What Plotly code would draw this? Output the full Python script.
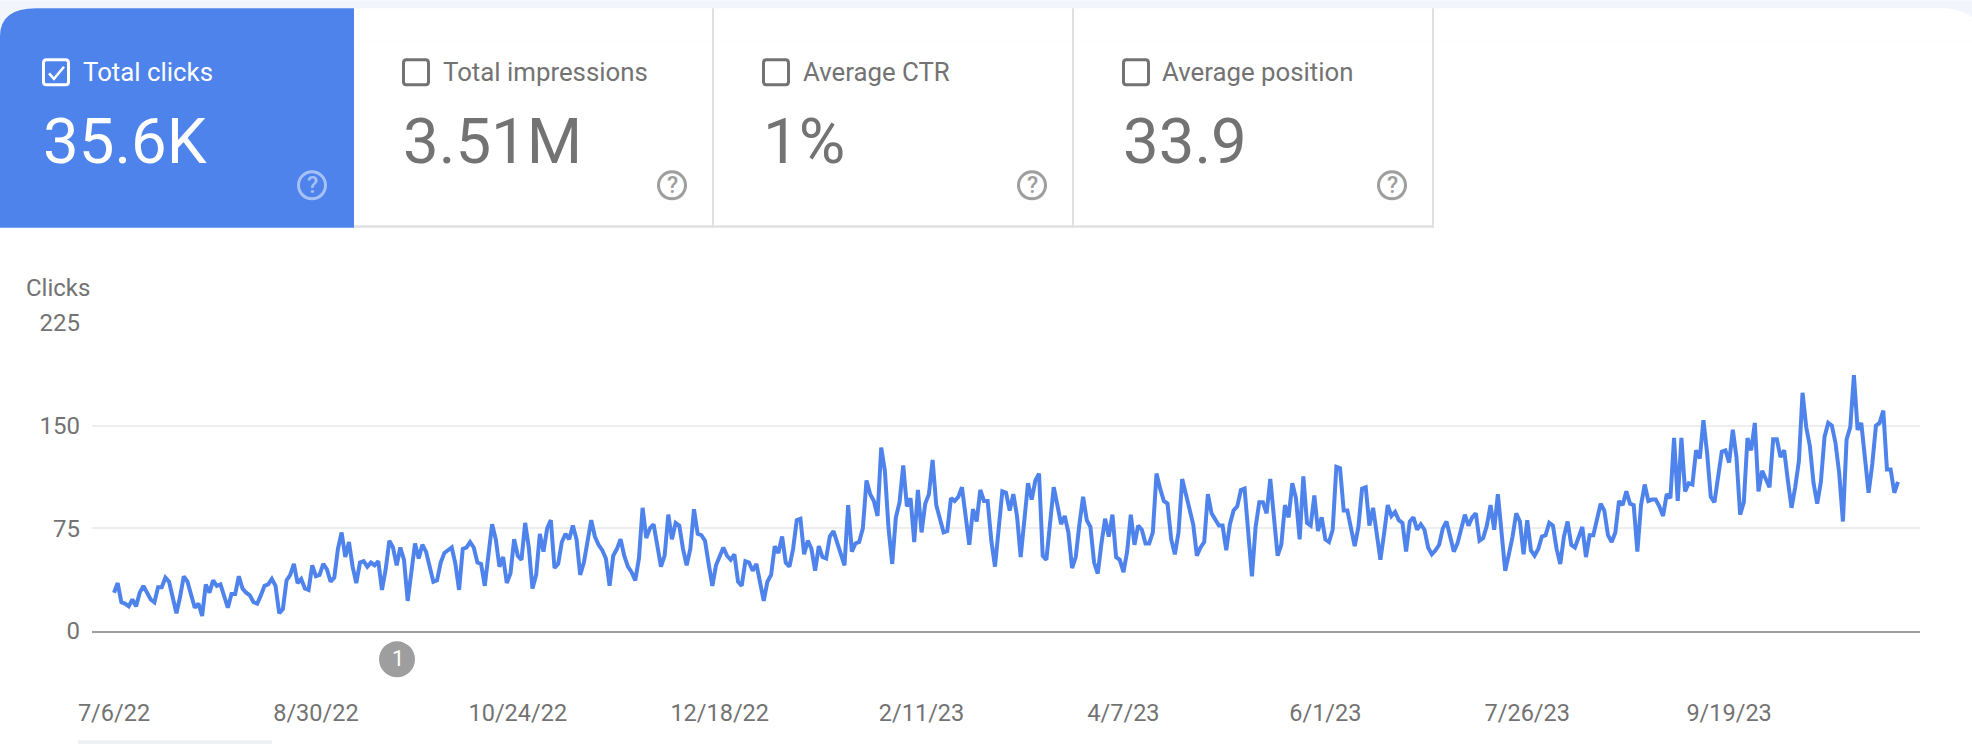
import datetime as dt
import plotly.graph_objects as go

# ---------- data ----------
START_DATE = dt.date(2022, 7, 6)
clicks_2022_a = [
    28,35,21,20,18,23,18,28,33,28,23,21,32,32,39,36,25,13,25,40,36,26,17,20,11,34,28,37,33,34,
    25,17,27,27,40,31,28,26,21,20,26,33,34,38,33,13,16,37,41,49,35,38,31,30,48,40,41,49,45,36,
    39,60,72,54,65,47,35,50,51,47,50,48,51,30,45,66,61,48,61,52,22,44,64,53,63,58,46,36,37,50,
    57,59,61,49,30,60,61,65,61,50,49,33,55,78,67,
]
clicks_2022_b = [
    47,54,35,42,67,55,52,79,61,31,41,71,58,75,81,46,49,65,71,67,77,67,41,50,65,81,69,63,59,53,
    33,55,60,67,55,47,43,37,53,90,68,75,78,63,47,55,85,67,79,77,60,48,60,89,71,70,66,49,33,48,
    54,61,55,52,56,36,33,51,50,44,49,37,22,36,41,62,57,69,50,47,60,81,82,56,66,60,44,62,54,53,
    69,73,65,55,48,92,58,64,65,75,110,100,95,84,134,117,75,49,83,
]
clicks_2023_a = [
    94,121,91,97,65,103,72,93,100,125,92,81,72,73,97,95,98,105,83,63,89,80,103,95,95,66,47,76,
    102,101,88,100,84,54,81,108,96,110,115,55,52,81,105,92,78,84,72,46,54,78,98,81,76,50,42,64,
    82,69,85,54,52,43,58,85,63,77,74,64,64,72,115,104,95,93,67,56,72,111,99,88,78,55,61,65,100,
    86,82,77,77,59,78,88,91,103,104,71,40,76,94,94,86,111,86,55,63,92,83,108,97,67,
]
clicks_2023_b = [
    113,79,77,99,73,83,67,65,74,120,119,88,88,76,62,76,104,105,77,90,70,52,71,92,84,87,81,79,58,
    80,83,74,78,74,61,56,59,63,75,80,69,58,64,76,85,77,83,86,66,68,77,92,74,100,71,44,56,69,86,
    80,56,81,59,55,60,69,70,79,77,60,49,69,80,63,61,69,76,54,70,70,82,93,88,70,65,72,95,92,102,
    93,92,58,92,107,95,96,96,91,84,100,97,141,95,141,102,108,107,132,126,
]
clicks_2023_c = [
    154,130,98,94,113,131,132,123,147,127,85,94,141,132,152,102,117,111,105,140,140,127,132,110,
    90,105,124,174,149,135,108,93,109,142,152,150,137,115,80,140,149,187,147,152,127,101,122,150,
    152,161,118,118,101,109,
]
clicks = clicks_2022_a + clicks_2022_b + clicks_2023_a + clicks_2023_b + clicks_2023_c
dates = [START_DATE + dt.timedelta(days=i) for i in range(len(clicks))]

y_ticks = [0, 75, 150, 225]
x_tick_dates = [dt.date(2022,7,6), dt.date(2022,8,30), dt.date(2022,10,24), dt.date(2022,12,18),
                dt.date(2023,2,11), dt.date(2023,4,7), dt.date(2023,6,1), dt.date(2023,7,26),
                dt.date(2023,9,19)]
x_tick_labels = ["7/6/22", "8/30/22", "10/24/22", "12/18/22", "2/11/23", "4/7/23", "6/1/23",
                 "7/26/23", "9/19/23"]

card_labels = ["Total clicks", "Total impressions", "Average CTR", "Average position"]
card_values = ["35.6K", "3.51M", "1%", "33.9"]
axis_title = "Clicks"
marker_label = "1"

# ---------- layout constants (pixels in the 1972x744 page) ----------
W, H = 1972, 744
PL, PR, PT, PB = 92, 1920, 322.7, 630.7
BLUE, GREY, LINE_BLUE = "#4f83ec", "#737373", "#4f83ec"
FONT = "Roboto"
PX_PER_DAY = 3.667
X0_PX = 115.7

def fx(px): return (px - PL) / (PR - PL)
def fy(py): return (PB - py) / (PB - PT)
def P(px, py): return f"{fx(px):.6f},{fy(py):.6f}"

def rrect(x0, y0, x1, y1, r):
    return (f"M{P(x0+r,y0)} L{P(x1-r,y0)} Q{P(x1,y0)} {P(x1,y0+r)} L{P(x1,y1-r)} "
            f"Q{P(x1,y1)} {P(x1-r,y1)} L{P(x0+r,y1)} Q{P(x0,y1)} {P(x0,y1-r)} "
            f"L{P(x0,y0+r)} Q{P(x0,y0)} {P(x0+r,y0)} Z")

def path(d, fill=None, line=None, w=0):
    return dict(type="path", xref="paper", yref="paper", path=d, layer="below",
                fillcolor=fill if fill else "rgba(0,0,0,0)",
                line=dict(color=line if line else "rgba(0,0,0,0)", width=w))

def rect(x0, y0, x1, y1, fill):
    return dict(type="rect", xref="paper", yref="paper", x0=fx(x0), x1=fx(x1), y0=fy(y1), y1=fy(y0),
                fillcolor=fill, line=dict(width=0), layer="below")

def circle(cx, cy, r, fill=None, line=None, w=0):
    return dict(type="circle", xref="paper", yref="paper", x0=fx(cx-r), x1=fx(cx+r), y0=fy(cy+r), y1=fy(cy-r),
                fillcolor=fill if fill else "rgba(0,0,0,0)",
                line=dict(color=line if line else "rgba(0,0,0,0)", width=w), layer="above")

def text(s, px, py, size, color, anchor="left", weight=400):
    return dict(text=s, xref="paper", yref="paper", x=fx(px), y=fy(py), showarrow=False,
                xanchor=anchor, yanchor="middle", xshift=0, borderpad=0,
                font=dict(family=FONT, size=size, color=color, weight=weight))

shapes, annos = [], []
# page strip and rounded white sheet
shapes.append(rect(0, 0, W, 40, "#f2f6fc"))
shapes.append(path(f"M{P(0,40)} L{P(0,36)} Q{P(0,8)} {P(36,8)} L{P(1946,8)} Q{P(1962,9)} {P(1972,17)} L{P(1972,40)} Z", "#ffffff"))
shapes.append(rect(78, 740, 272, 744, "#eef1f4"))
# card frame
shapes.append(rect(354, 225, 1433.5, 227.5, "#e0e0e0"))
for xd in [712, 1072, 1432]:
    shapes.append(rect(xd, 8, xd + 2, 227.5, "#e0e0e0"))
# blue card
shapes.append(path(f"M{P(0,227.5)} L{P(0,36)} Q{P(0,8)} {P(36,8)} L{P(354,8)} L{P(354,227.5)} Z", BLUE))

box_x = [42, 402, 762, 1122]
label_x = [82, 442, 802, 1161]
value_x = [42, 402, 762, 1122]
help_x = [312, 672, 1032, 1392]
for i in range(4):
    col = "#ffffff" if i == 0 else GREY
    hcol = "rgba(255,255,255,0.5)" if i == 0 else "#9e9e9e"
    bx = box_x[i]
    s = rrect(bx + 1.5, 59.5, bx + 26.5, 84.5, 3)
    shapes.append(dict(path(s, None, col, 3), layer="above"))
    annos.append(text(card_labels[i], label_x[i], 72, 25.8, col))
    annos.append(text(card_values[i], value_x[i], 141, 63.5, col))
    shapes.append(circle(help_x[i], 185, 13.5, None, hcol, 3))
    annos.append(text("?", help_x[i], 185, 23, hcol, "center", 500))
# check mark
shapes.append(dict(path(f"M{P(49,73)} L{P(54,78.5)} L{P(64,66.5)}", None, "#ffffff", 2.5), layer="above"))

annos.append(text(axis_title, 25, 288, 24, GREY))
# annotation marker
shapes.append(circle(397, 659, 18, "#9e9e9e"))
annos.append(text(marker_label, 397.5, 658.5, 22, "#ffffff", "center"))

x_min = START_DATE - dt.timedelta(days=(X0_PX - PL) / PX_PER_DAY)
x_max = START_DATE + dt.timedelta(days=(PR - X0_PX) / PX_PER_DAY)

fig = go.Figure(go.Scatter(x=dates, y=clicks, mode="lines", line=dict(color=LINE_BLUE, width=4),
                           hoverinfo="x+y", cliponaxis=False))
fig.update_layout(
    width=W, height=H, margin=dict(l=PL, r=W-PR, t=PT, b=H-PB, pad=0, autoexpand=False),
    paper_bgcolor="#ffffff", plot_bgcolor="rgba(0,0,0,0)", showlegend=False,
    font=dict(family=FONT, color=GREY),
    shapes=shapes, annotations=annos,
    xaxis=dict(type="date", range=[x_min, x_max], tickmode="array", tickvals=x_tick_dates, ticktext=x_tick_labels,
               showgrid=False, zeroline=False, showline=True, linecolor="#9e9e9e", linewidth=2,
               ticks="", ticklabelstandoff=60, tickfont=dict(family=FONT, size=23.5, color=GREY), tickangle=0),
    yaxis=dict(range=[0, 225], tickmode="array", tickvals=y_ticks, showgrid=True, gridcolor="#eeeeee", gridwidth=2,
               zeroline=False, showline=False, ticks="", ticklabelstandoff=11,
               tickfont=dict(family=FONT, size=24, color=GREY)),
)
fig.write_html("out.html", config=dict(displayModeBar=False),
               post_script="document.body.style.margin='0';document.body.style.overflow='hidden';")
